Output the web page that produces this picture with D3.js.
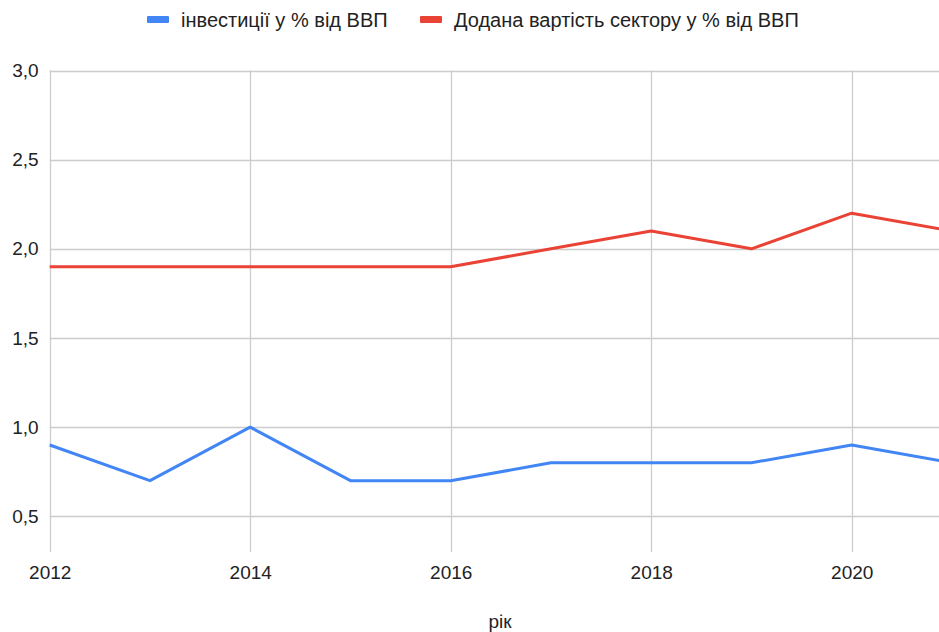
<!DOCTYPE html>
<html>
<head>
<meta charset="utf-8">
<script src="https://cdn.jsdelivr.net/npm/d3@7"></script>
<style>
  body { margin: 0; background: #fff; }
  text { font-family: "Liberation Sans", Arial, sans-serif; fill: #222; }
</style>
</head>
<body>
<div id="chart"></div>
<script>
  var years = [2012, 2013, 2014, 2015, 2016, 2017, 2018, 2019, 2020, 2021];
  var investments = [0.9, 0.7, 1.0, 0.7, 0.7, 0.8, 0.8, 0.8, 0.9, 0.8];
  var valueAdded = [1.9, 1.9, 1.9, 1.9, 1.9, 2.0, 2.1, 2.0, 2.2, 2.1];
  var xTicks = [2012, 2014, 2016, 2018, 2020];
  var yTicks = [0.5, 1.0, 1.5, 2.0, 2.5, 3.0];
  var seriesNames = ["інвестиції у % від ВВП", "Додана вартість сектору у % від ВВП"];
  var colors = ["#4285F4", "#EA4335"];

  var width = 939;
  var height = 632;
  var fontSize = "19px";

  var series = [
    {name: seriesNames[0], values: investments},
    {name: seriesNames[1], values: valueAdded}
  ];

  /* Scale */
  var xScale = d3.scaleLinear()
    .domain([2012, 2021])
    .range([49.7, 49.7 + 9 * 100.25]);

  var yScale = d3.scaleLinear()
    .domain([0.3, 3.0])
    .range([552, 70.5]);

  var svg = d3.select("#chart").append("svg")
    .attr("width", width)
    .attr("height", height);

  svg.append("defs").append("clipPath")
    .attr("id", "clip")
    .append("rect")
    .attr("x", 0).attr("y", 0)
    .attr("width", width).attr("height", height);

  /* Grid */
  var grid = svg.append("g").attr("clip-path", "url(#clip)");

  grid.selectAll(".hgrid")
    .data(yTicks).enter()
    .append("line")
    .attr("x1", xScale(2012))
    .attr("x2", xScale(2021))
    .attr("y1", d => Math.round(yScale(d)) + 0.5)
    .attr("y2", d => Math.round(yScale(d)) + 0.5)
    .attr("stroke", "#cccccc")
    .attr("stroke-width", 1.3);

  grid.selectAll(".vgrid")
    .data(xTicks).enter()
    .append("line")
    .attr("x1", d => Math.round(xScale(d)) + 0.5)
    .attr("x2", d => Math.round(xScale(d)) + 0.5)
    .attr("y1", yScale(3.0))
    .attr("y2", yScale(0.3))
    .attr("stroke", "#cccccc")
    .attr("stroke-width", 1.3);

  /* Axes labels via d3 axes */
  var yAxis = d3.axisLeft(yScale)
    .tickValues(yTicks)
    .tickSize(0)
    .tickPadding(11)
    .tickFormat(d => d3.format(".1f")(d).replace(".", ","));

  svg.append("g")
    .attr("transform", "translate(" + xScale(2012) + ",0)")
    .call(yAxis)
    .call(g => g.select(".domain").remove())
    .selectAll("text")
    .style("font-size", fontSize)
    .style("font-family", "'Liberation Sans', Arial, sans-serif")
    .attr("fill", "#222");

  var xAxis = d3.axisBottom(xScale)
    .tickValues(xTicks)
    .tickSize(0)
    .tickPadding(14)
    .tickFormat(d3.format("d"));

  svg.append("g")
    .attr("transform", "translate(0," + yScale(0.3) + ")")
    .call(xAxis)
    .call(g => g.select(".domain").remove())
    .selectAll("text")
    .style("font-size", fontSize)
    .style("font-family", "'Liberation Sans', Arial, sans-serif")
    .attr("fill", "#222");

  svg.append("text")
    .attr("x", 500)
    .attr("y", 628)
    .attr("text-anchor", "middle")
    .style("font-size", fontSize)
    .text("рік");

  /* Lines */
  var line = d3.line()
    .x((d, i) => xScale(years[i]))
    .y(d => yScale(d));

  svg.append("g")
    .attr("clip-path", "url(#clip)")
    .selectAll("path")
    .data(series).enter()
    .append("path")
    .attr("d", d => line(d.values))
    .attr("fill", "none")
    .attr("stroke", (d, i) => colors[i])
    .attr("stroke-width", 3)
    .attr("stroke-linejoin", "round");

  /* Legend */
  var legendX = [147, 420];
  var legend = svg.append("g");
  series.forEach(function(s, i) {
    legend.append("rect")
      .attr("x", legendX[i])
      .attr("y", 16)
      .attr("width", 22)
      .attr("height", 7)
      .attr("rx", 1)
      .attr("fill", colors[i]);
    legend.append("text")
      .attr("x", legendX[i] + 34)
      .attr("y", 27)
      .style("font-size", "20px")
      .text(s.name);
  });
</script>
</body>
</html>
